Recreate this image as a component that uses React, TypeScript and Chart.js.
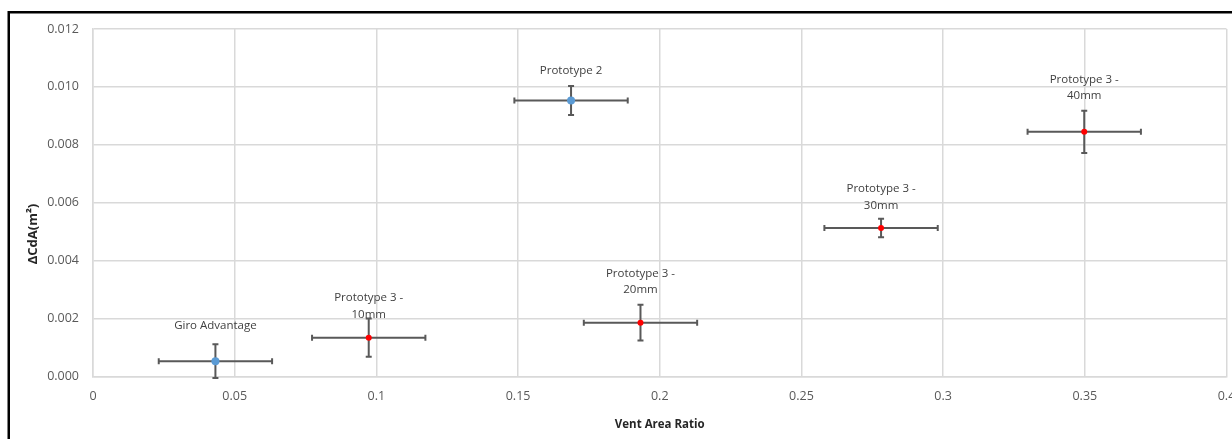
import React, { useEffect, useRef } from 'react';
import { Chart, registerables } from 'chart.js';

Chart.register(...registerables);

// ---- data ----
const pointNames: string[][] = [
  ['Giro Advantage'],
  ['Prototype 3 -', '10mm'],
  ['Prototype 2'],
  ['Prototype 3 -', '20mm'],
  ['Prototype 3 -', '30mm'],
  ['Prototype 3 -', '40mm'],
];
const pointGroup = ['helmet', 'proto3', 'helmet', 'proto3', 'proto3', 'proto3'];
const ventAreaRatio = [0.0432, 0.0973, 0.1687, 0.1932, 0.2781, 0.3498];
const deltaCdA = [0.00053, 0.00134, 0.00953, 0.00186, 0.00513, 0.00845];
const xError = [0.02, 0.02, 0.02, 0.02, 0.02, 0.02];
const yError = [0.00058, 0.00066, 0.0005, 0.00062, 0.00032, 0.00073];

const xTickLabels = ['0', '0.05', '0.1', '0.15', '0.2', '0.25', '0.3', '0.35', '0.4'];
const yTickLabels = ['0.000', '0.002', '0.004', '0.006', '0.008', '0.010', '0.012'];

const xTitle = 'Vent Area Ratio';
const yTitle = 'ΔCdA(m²)';

// ---- style (not data) ----
const labelLift = [35.7, 23, 30, 32.7, 22.3, 35.7];
const FONT = '"Open Sans", "DejaVu Sans", sans-serif';

function buildPoints(group: string) {
  const out: any[] = [];
  ventAreaRatio.forEach((x, i) => {
    if (pointGroup[i] === group) {
      out.push({ x, y: deltaCdA[i], xErr: xError[i], yErr: yError[i], idx: i });
    }
  });
  return out;
}

const errorBarPlugin = {
  id: 'errorBars',
  beforeDatasetsDraw(chart: any) {
    const { ctx } = chart;
    const xs = chart.scales.x;
    const ys = chart.scales.y;
    ctx.save();
    ctx.strokeStyle = '#595959';
    ctx.lineWidth = 2;
    const cap = 3;
    chart.data.datasets.forEach((ds: any) => {
      ds.data.forEach((d: any) => {
        const px = xs.getPixelForValue(d.x);
        const py = ys.getPixelForValue(d.y);
        const xl = xs.getPixelForValue(d.x - d.xErr);
        const xr = xs.getPixelForValue(d.x + d.xErr);
        const yt = ys.getPixelForValue(d.y + d.yErr);
        const yb = ys.getPixelForValue(d.y - d.yErr);
        ctx.beginPath();
        ctx.moveTo(xl, py); ctx.lineTo(xr, py);
        ctx.moveTo(xl, py - cap); ctx.lineTo(xl, py + cap);
        ctx.moveTo(xr, py - cap); ctx.lineTo(xr, py + cap);
        ctx.moveTo(px, yt); ctx.lineTo(px, yb);
        ctx.moveTo(px - cap, yt); ctx.lineTo(px + cap, yt);
        ctx.moveTo(px - cap, yb); ctx.lineTo(px + cap, yb);
        ctx.stroke();
      });
    });
    ctx.restore();
  },
  afterDatasetsDraw(chart: any) {
    const { ctx } = chart;
    const xs = chart.scales.x;
    const ys = chart.scales.y;
    ctx.save();
    ctx.fillStyle = '#404040';
    ctx.font = `11.5px ${FONT}`;
    ctx.textAlign = 'center';
    ctx.textBaseline = 'middle';
    const lineGap = 16.5;
    chart.data.datasets.forEach((ds: any) => {
      ds.data.forEach((d: any) => {
        const px = xs.getPixelForValue(d.x);
        const py = ys.getPixelForValue(d.y);
        const lines = pointNames[d.idx];
        const lastY = py - labelLift[d.idx];
        lines.forEach((ln, k) => {
          ctx.fillText(ln, px, lastY - (lines.length - 1 - k) * lineGap);
        });
      });
    });
    ctx.restore();
  },
};

const framePlugin = {
  id: 'frame',
  afterDraw(chart: any) {
    const { ctx } = chart;
    ctx.save();
    ctx.strokeStyle = '#000';
    ctx.lineWidth = 2.5;
    ctx.beginPath();
    ctx.moveTo(8.75, 439);
    ctx.lineTo(8.75, 12.25);
    ctx.lineTo(1232, 12.25);
    ctx.stroke();
    // y axis title
    const ca = chart.chartArea;
    ctx.translate(33, ca.top + 205);
    ctx.rotate(-Math.PI / 2);
    ctx.fillStyle = '#262626';
    ctx.font = `bold 13px ${FONT}`;
    ctx.textAlign = 'center';
    ctx.textBaseline = 'middle';
    ctx.fillText(yTitle, 0, 0);
    ctx.restore();
  },
};

export default function App() {
  const ref = useRef<HTMLCanvasElement | null>(null);

  useEffect(() => {
    if (!ref.current) return;
    const chart = new Chart(ref.current, {
      type: 'scatter',
      data: {
        datasets: [
          {
            label: 'Helmets',
            data: buildPoints('helmet'),
            backgroundColor: '#5b9bd5',
            borderColor: '#5b9bd5',
            pointRadius: 4,
            pointBorderWidth: 0,
          },
          {
            label: 'Prototype 3',
            data: buildPoints('proto3'),
            backgroundColor: '#ff0000',
            borderColor: '#ff0000',
            pointRadius: 3,
            pointBorderWidth: 0,
          },
        ],
      },
      options: {
        animation: false,
        responsive: false,
        devicePixelRatio: 1,
        layout: { padding: { top: 29, right: 5.5, bottom: 0, left: 0 } },
        plugins: {
          legend: { display: false },
          tooltip: { enabled: false },
        },
        scales: {
          x: {
            type: 'linear',
            min: 0,
            max: 0.4,
            ticks: {
              stepSize: 0.05,
              padding: 12,
              color: '#595959',
              font: { family: FONT, size: 12.5 },
              maxRotation: 0,
              autoSkip: false,
              callback: (_v: any, i: number) => xTickLabels[i],
            },
            grid: { color: '#d9d9d9', lineWidth: 1.5, drawTicks: false },
            border: { color: '#d9d9d9', width: 1.5 },
            title: {
              display: true,
              text: xTitle,
              color: '#262626',
              font: { family: FONT, size: 11.5, weight: 'bold' },
              padding: { top: 0, bottom: 7 },
            },
            afterFit: (s: any) => {
              s.height = 62.5;
              s.paddingLeft = 0;
              s.paddingRight = 0;
            },
          },
          y: {
            type: 'linear',
            min: 0,
            max: 0.012,
            ticks: {
              stepSize: 0.002,
              padding: 14,
              color: '#595959',
              font: { family: FONT, size: 12.5 },
              autoSkip: false,
              callback: (_v: any, i: number) => yTickLabels[i],
            },
            grid: { color: '#d9d9d9', lineWidth: 1.5, drawTicks: false },
            border: { color: '#d9d9d9', width: 1.5 },
            afterFit: (s: any) => {
              s.width = 93;
              s.paddingTop = 0;
              s.paddingBottom = 0;
            },
          },
        },
      },
      plugins: [errorBarPlugin, framePlugin],
    });
    return () => chart.destroy();
  }, []);

  return (
    <div style={{ position: 'fixed', left: 0, top: 0, width: 1232, height: 439, background: '#fff' }}>
      <canvas ref={ref} width={1232} height={439} style={{ display: 'block' }} />
    </div>
  );
}
